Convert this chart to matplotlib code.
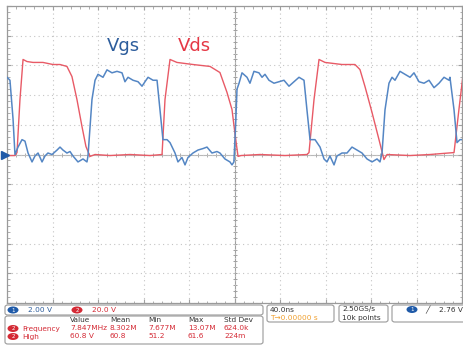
import numpy as np
import matplotlib.pyplot as plt
from matplotlib.patches import FancyBboxPatch, Ellipse

# Ch1 (Vgs) and Ch2 (Vds), time in ns, voltage in V
t_gs = [0, 2.6, 5.3, 7.0, 9.7, 13.2, 15.8, 18.5, 22.0, 24.6, 27.3, 30.8, 33.4, 36.0,
        39.6, 44.0, 46.6, 49.2, 52.7, 55.4, 58.0, 62.4, 66.8, 70.3, 71.2, 74.7, 77.4,
        80.0, 84.4, 87.9, 92.3, 96.7, 101.1, 103.7, 106.4, 110.8, 115.2, 118.7, 121.3,
        124.0, 128.4, 131.9, 134.5, 137.1, 140.7, 143.3, 147.7, 150.3, 153.8, 156.5,
        159.1, 163.5, 167.9, 172.3, 175.8, 180.2, 184.6, 187.2, 191.6, 196.0, 197.8,
        199.5, 201.2, 202.2, 204.0, 206.6, 211.0, 213.6, 217.1, 221.5, 224.2, 226.8,
        230.3, 234.7, 239.1, 243.5, 247.9, 252.3, 256.7, 261.1, 263.7, 266.4, 270.8,
        275.2, 278.7, 281.3, 283.9, 287.5, 290.1, 294.5, 298.9, 303.3, 307.7, 312.1,
        316.5, 320.9, 325.3, 327.9, 329.7, 332.3, 335.8, 338.5, 341.1, 345.5, 349.9,
        354.3, 357.8, 362.2, 366.6, 371.0, 375.4, 379.8, 384.2, 388.6, 389.4, 393.0,
        395.6, 398.2, 401.8]
v_gs = [5.2, 5.0, 2.4, 0.0, 0.5, 1.0, 0.9, 0.1, -0.5, -0.1, 0.1, -0.5, -0.1, 0.1,
        0.0, 0.3, 0.5, 0.3, 0.1, 0.2, -0.1, -0.5, -0.3, -0.5, -0.1, 3.7, 5.0,
        5.4, 5.2, 5.7, 5.5, 5.6, 5.5, 4.9, 5.2, 5.0, 4.9, 4.6, 4.9,
        5.2, 5.0, 5.0, 3.0, 1.0, 1.0, 0.8, 0.1, -0.5, -0.2, -0.7,
        -0.2, 0.1, 0.3, 0.4, 0.5, 0.1, 0.2, 0.1, -0.3, -0.5, -0.7,
        -0.5, 2.4, 4.4, 4.8, 5.5, 5.2, 4.8, 5.6, 5.5, 5.2, 5.4,
        5.0, 4.8, 4.9, 5.0, 4.6, 4.9, 5.2, 5.0, 3.0, 1.0, 1.0,
        0.5, -0.3, -0.5, -0.1, -0.7, -0.1, 0.1, 0.1, 0.5, 0.3, 0.1,
        -0.3, -0.5, -0.3, -0.5, 0.1, 3.0, 4.8, 5.2, 5.0, 5.6, 5.4,
        5.2, 5.5, 4.9, 4.8, 5.0, 4.5, 4.8, 5.2, 5.0, 5.2, 3.0,
        0.8, 1.0, 1.0]

t_ds = [0, 7.0, 8.8, 11.4, 14.1, 17.6, 22.9, 31.6, 40.4, 46.6, 52.7, 57.1, 61.5,
        65.9, 69.4, 73.0, 77.4, 90.5, 108.1, 125.7, 136.3, 138.9, 143.3, 149.4,
        163.5, 178.5, 187.2, 193.4, 197.8, 200.5, 203.1, 205.7, 222.4, 244.4, 263.7,
        265.5, 269.9, 274.3, 279.6, 294.5, 305.9, 310.3, 314.7, 320.9, 327.0, 331.4,
        334.1, 354.3, 371.9, 393.0, 397.3, 401.8]
v_ds = [-0.7, -0.7, 1.3, 37.0, 64.0, 62.6, 62.0, 62.0, 60.6, 60.6, 59.3, 52.5, 37.0,
        18.9, 5.4, -1.3, 0.0, -0.7, 0.0, -0.7, 0.0, 37.0, 64.0, 62.0,
        60.6, 59.3, 55.2, 41.8, 30.3, 13.5, -1.3, -0.7, 0.0, -0.7, 0.0,
        1.3, 37.0, 64.0, 62.0, 60.6, 60.6, 57.2, 45.8, 28.3, 10.1, -3.4,
        0.0, -0.7, 0.0, 1.3, 30.3, 59.3]

scale_gs = 2.0    # V/div
scale_ds = 20.0   # V/div
time_div = 40.0   # ns/div

W, H = 464, 345
fig = plt.figure(figsize=(W / 100, H / 100), dpi=100)
fig.patch.set_facecolor('white')

def fx(x):
    return x / W

def fy(y):
    return 1 - y / H

ax = fig.add_axes([fx(7), fy(303), (462 - 7) / W, (303 - 6) / H])
ax.set_xlim(0, 10 * time_div)
ax.set_ylim(-5, 5)

# graticule
ax.set_xticks(np.arange(0, 10 * time_div + 1, time_div))
ax.set_yticks(np.arange(-5, 6, 1))
ax.set_xticks(np.arange(0, 10 * time_div + 1, time_div / 5), minor=True)
ax.set_yticks(np.arange(-5, 5.01, 0.2), minor=True)
ax.grid(True, which='major', linestyle=(0, (1, 3)), color='#c4c4c4', linewidth=0.8)
ax.tick_params(which='both', direction='in', top=True, right=True,
               labelbottom=False, labelleft=False, color='#a0a0a0')
ax.tick_params(which='major', length=3)
ax.tick_params(which='minor', length=1.8)
for s in ax.spines.values():
    s.set_color('#9a9a9a')
    s.set_linewidth(0.9)

ax.axhline(0, color='#b8b8b8', linewidth=0.8, zorder=1)
ax.axvline(5 * time_div, color='#a0a0a0', linewidth=0.8, zorder=1)
mt = np.arange(-5, 5.01, 0.2)
ax.plot(np.full_like(mt, 5 * time_div), mt, linestyle='none', marker='_',
        markersize=3, color='#a0a0a0', markeredgewidth=0.7, zorder=1)
mx = np.arange(0, 10 * time_div + 1, time_div / 5)
ax.plot(mx, np.zeros_like(mx), linestyle='none', marker='|',
        markersize=3, color='#b0b0b0', markeredgewidth=0.7, zorder=1)

# traces
ax.plot(t_ds, np.array(v_ds) / scale_ds, color='#e85a66', linewidth=1.0, zorder=3)
ax.plot(t_gs, np.array(v_gs) / scale_gs, color='#5486c4', linewidth=1.1, zorder=4)

# ground marker for channel 1
ax.plot([-1.5], [0], marker='>', markersize=6, color='#1f5aa8', clip_on=False, zorder=5)

ax.text(102, 3.64, 'Vgs', color='#2d5d9c', fontsize=13, ha='center', va='center')
ax.text(165, 3.64, 'Vds', color='#e53845', fontsize=13, ha='center', va='center')

# status bar
def box(x0, y0, x1, y1, ec='#9a9a9a'):
    p = FancyBboxPatch((fx(x0), fy(y1)), fx(x1) - fx(x0), fy(y0) - fy(y1),
                       boxstyle='round,pad=0,rounding_size=0.006',
                       transform=fig.transFigure, facecolor='white',
                       edgecolor=ec, linewidth=0.8)
    fig.patches.append(p)

def badge(x, y, color, label):
    e = Ellipse((fx(x), fy(y)), 11 / W, 7 / H, transform=fig.transFigure,
                facecolor=color, edgecolor='none')
    fig.patches.append(e)
    fig.text(fx(x), fy(y), label, color='white', fontsize=4, ha='center',
             va='center')

fs = 5.3
box(5, 305, 263, 315)
badge(13, 310, '#1f5aa8', '1')
fig.text(fx(28), fy(310), '2.00 V', color='#2d5d9c', fontsize=fs, va='center')
badge(77, 310, '#d42a35', '2')
fig.text(fx(92), fy(310), '20.0 V', color='#d42a35', fontsize=fs, va='center')

box(5, 316, 263, 344)
cols = [70, 110, 148, 188, 224]
headers = ['Value', 'Mean', 'Min', 'Max', 'Std Dev']
meas_names = ['Frequency', 'High']
meas_vals = [['7.847MHz', '8.302M', '7.677M', '13.07M', '624.0k'],
             ['60.8 V', '60.8', '51.2', '61.6', '224m']]
for c, h in zip(cols, headers):
    fig.text(fx(c), fy(320.5), h, color='#333333', fontsize=fs, va='center')
for i, (name, vals) in enumerate(zip(meas_names, meas_vals)):
    yy = 328.5 + i * 8
    badge(13, yy, '#d42a35', '2')
    fig.text(fx(22), fy(yy), name, color='#d42a35', fontsize=fs, va='center')
    for c, v in zip(cols, vals):
        fig.text(fx(c), fy(yy), v, color='#d42a35', fontsize=fs, va='center')

box(267, 305, 334, 322)
fig.text(fx(270), fy(309.5), '40.0ns', color='#333333', fontsize=fs, va='center')
fig.text(fx(270), fy(318), 'T\u21920.00000 s', color='#f0a030', fontsize=fs, va='center')

box(339, 305, 388, 322)
fig.text(fx(342), fy(309.5), '2.50GS/s', color='#333333', fontsize=fs, va='center')
fig.text(fx(342), fy(318), '10k points', color='#333333', fontsize=fs, va='center')

box(392, 305, 470, 322)
badge(412, 309.5, '#1f5aa8', '1')
fig.text(fx(425), fy(309.5), '\u2571', color='#333333', fontsize=fs, va='center')
fig.text(fx(439), fy(309.5), '2.76 V', color='#333333', fontsize=fs, va='center')

fig.savefig('out.png', dpi=100, facecolor='white')
